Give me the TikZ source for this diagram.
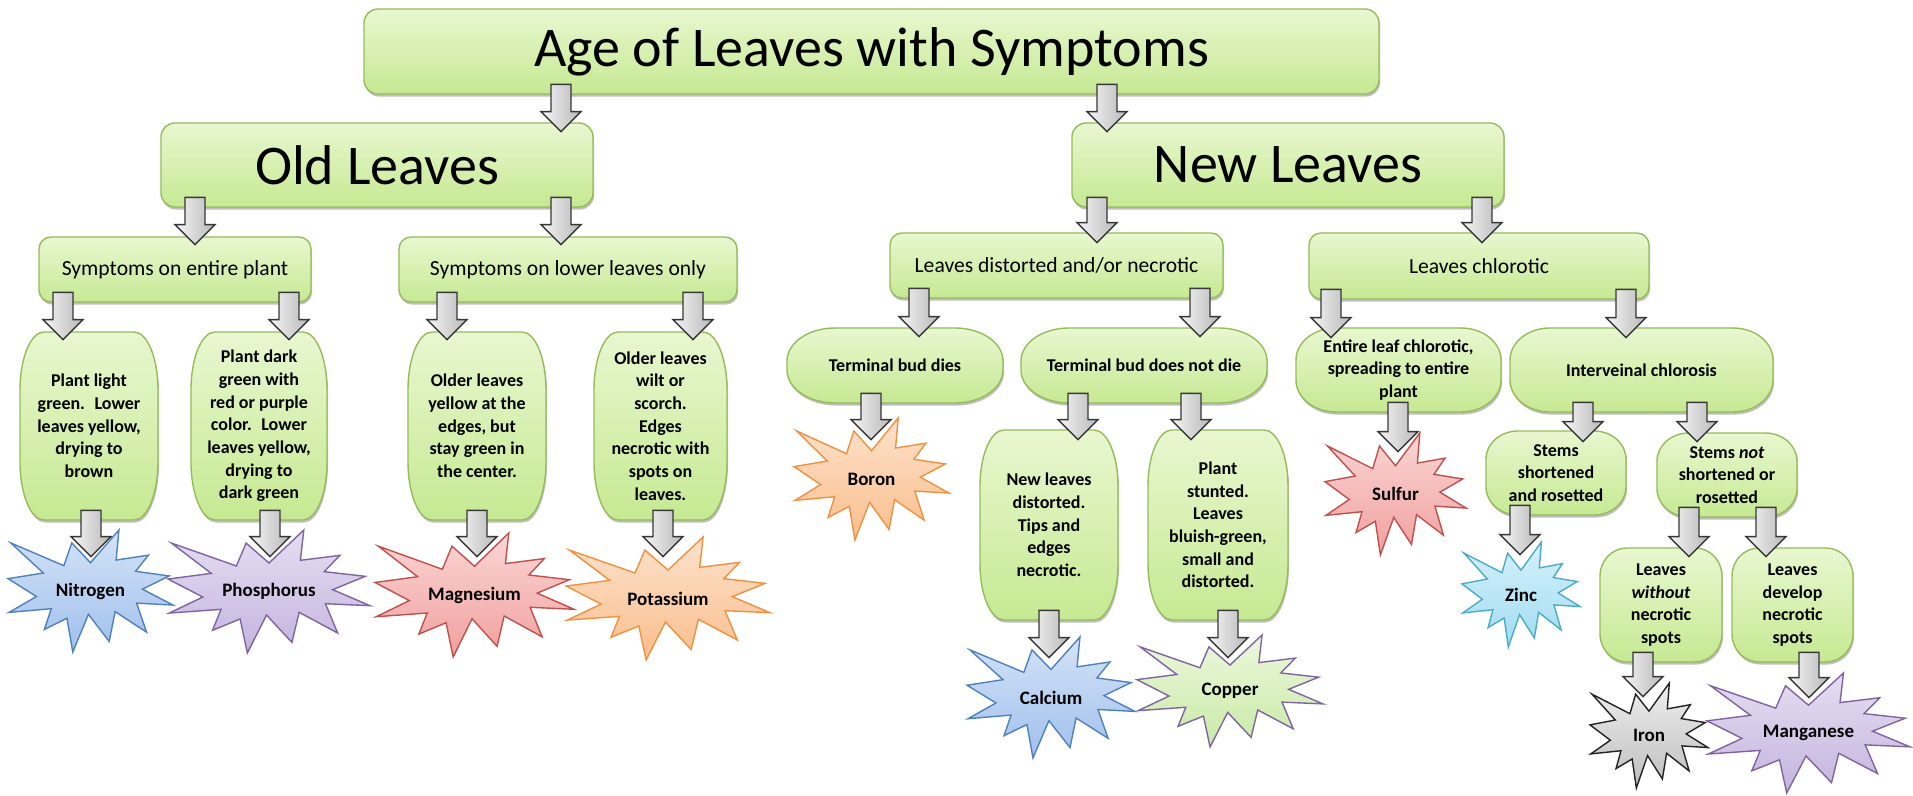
\documentclass[tikz,border=0pt]{standalone}
\usepackage{fontspec}
\setmainfont{Carlito}
\usetikzlibrary{calc,shadows}

\definecolor{boxtop}{RGB}{232,247,208}
\definecolor{boxbot}{RGB}{198,233,146}
\definecolor{boxline}{RGB}{150,188,90}
\definecolor{arrline}{RGB}{55,55,55}

\definecolor{bluetop}{RGB}{212,227,247}
\definecolor{bluebot}{RGB}{160,192,236}
\definecolor{blueline}{RGB}{79,129,189}
\definecolor{purptop}{RGB}{230,222,242}
\definecolor{purpbot}{RGB}{196,180,222}
\definecolor{purpline}{RGB}{128,100,162}
\definecolor{redtop}{RGB}{250,214,213}
\definecolor{redbot}{RGB}{240,160,158}
\definecolor{redline}{RGB}{192,80,77}
\definecolor{oratop}{RGB}{253,226,204}
\definecolor{orabot}{RGB}{250,190,140}
\definecolor{oraline}{RGB}{240,145,65}
\definecolor{grntop}{RGB}{236,248,222}
\definecolor{grnbot}{RGB}{200,234,166}
\definecolor{cyantop}{RGB}{214,241,250}
\definecolor{cyanbot}{RGB}{160,220,240}
\definecolor{cyanline}{RGB}{75,172,198}
\definecolor{graytop}{RGB}{238,238,238}
\definecolor{graybot}{RGB}{190,190,190}
\definecolor{grayline}{RGB}{35,35,35}

\tikzset{
  boxshape/.style={draw=boxline, line width=0.7pt, top color=boxtop, bottom color=boxbot,
    drop shadow={shadow xshift=0.5pt, shadow yshift=-1.3pt, opacity=0.25, fill=black}},
  boxlabel/.style={inner sep=0pt, align=center, text=black},
  txtbig/.style={font=\fontsize{28}{33}\selectfont},
  txtmid/.style={font=\fontsize{10.8}{13}\selectfont},
  txtsmall/.style={font=\fontsize{9}{11.35}\selectfont\bfseries},
  burstbase/.style={line width=0.7pt, line join=miter},
  burstlabel/.style={inner sep=0pt, font=\fontsize{9.5}{11}\selectfont\bfseries},
  bblue/.style={draw=blueline, top color=bluetop, bottom color=bluebot},
  bpurp/.style={draw=purpline, top color=purptop, bottom color=purpbot},
  bred/.style={draw=redline, top color=redtop, bottom color=redbot},
  bora/.style={draw=oraline, top color=oratop, bottom color=orabot},
  bgrn/.style={draw=purpline, top color=grntop, bottom color=grnbot},
  bcyan/.style={draw=cyanline, top color=cyantop, bottom color=cyanbot},
  bgray/.style={draw=grayline, top color=graytop, bottom color=graybot},
  barrowstyle/.style={draw=arrline, line width=0.7pt, line join=miter,
    left color=gray!8, right color=gray!55},
}

% rounded box with elliptical corners: [style]{name}{cx}{cy}{w}{h}{rx}{ry}{text}
\newcommand\gbox[9][txtsmall]{%
  \pgfmathsetmacro\bxL{#3-#5/2}\pgfmathsetmacro\bxR{#3+#5/2}%
  \pgfmathsetmacro\bxT{#4-#6/2}\pgfmathsetmacro\bxB{#4+#6/2}%
  \pgfmathsetmacro\bxA{#7}\pgfmathsetmacro\bxC{#8}%
  \pgfmathsetmacro\bxa{#7*0.4477}\pgfmathsetmacro\bxc{#8*0.4477}%
  \path[boxshape] (\bxL,{\bxT+\bxC}) .. controls (\bxL,{\bxT+\bxc}) and ({\bxL+\bxa},\bxT) .. ({\bxL+\bxA},\bxT)
    -- ({\bxR-\bxA},\bxT) .. controls ({\bxR-\bxa},\bxT) and (\bxR,{\bxT+\bxc}) .. (\bxR,{\bxT+\bxC})
    -- (\bxR,{\bxB-\bxC}) .. controls (\bxR,{\bxB-\bxc}) and ({\bxR-\bxa},\bxB) .. ({\bxR-\bxA},\bxB)
    -- ({\bxL+\bxA},\bxB) .. controls ({\bxL+\bxa},\bxB) and (\bxL,{\bxB-\bxc}) .. (\bxL,{\bxB-\bxC}) -- cycle;
  \node[boxlabel,#1,minimum width={#5*0.5pt},minimum height={#6*0.5pt}] (#2) at (#3,#4) {#9};
}

% explosion star: {name}{L}{T}{R}{B}{style}{text}
\newcommand\burst[7]{%
  \begin{scope}[shift={(#2,#3)}, x={({(#4-#2)*0.5pt},0pt)}, y={(0pt,{(#3-#5)*0.5pt})}]
    \path[burstbase,#6] (0.5,0.2685) -- (0.6723,0) -- (0.6553,0.2465) -- (0.8509,0.2063)
      -- (0.7732,0.3387) -- (0.9767,0.3767) -- (0.8151,0.4850) -- (1,0.6153)
      -- (0.7795,0.5992) -- (0.8400,0.8377) -- (0.6491,0.6693) -- (0.6133,0.9138)
      -- (0.4876,0.6914) -- (0.3928,1) -- (0.3572,0.7235) -- (0.2205,0.8156)
      -- (0.2624,0.6452) -- (0.00625,0.6753) -- (0.1723,0.5451) -- (0,0.3988)
      -- (0.2142,0.3526) -- (0.0171,0.1063) -- (0.3385,0.2926) -- (0.3867,0.1063) -- cycle;
  \end{scope}
  \node[burstlabel, minimum width={(#4-#2)*0.5pt}, minimum height={(#5-#3)*0.5pt}] (#1) at ({(#2+#4)/2},{(#3+#5)/2}) {#7};
}

% block arrow: {src}{dst}{x px}{tip depth below dst top, px}
\newcommand\barrow[4]{%
  \path[barrowstyle] let \p1=(#1.south), \p2=(#2.north) in
    ({#3*0.5pt-5pt},{\y1+5pt}) -- ({#3*0.5pt+5pt},{\y1+5pt})
    -- ({#3*0.5pt+5pt},{\y2-#4*0.5pt+10pt}) -- ({#3*0.5pt+10pt},{\y2-#4*0.5pt+10pt})
    -- ({#3*0.5pt},{\y2-#4*0.5pt}) -- ({#3*0.5pt-10pt},{\y2-#4*0.5pt+10pt})
    -- ({#3*0.5pt-5pt},{\y2-#4*0.5pt+10pt}) -- cycle;
}

\begin{document}
\begin{tikzpicture}[x=0.5pt,y=-0.5pt]
\fill[white] (0,0) rectangle (1913,796);
\useasboundingbox (0,0) rectangle (1913,796);

% level 1-3
\gbox[txtbig]{title}{871.5}{51.5}{1015}{85}{14}{14}{Age of Leaves with Symptoms}
\gbox[txtbig]{old}{377}{165}{432}{84}{14}{14}{Old Leaves}
\gbox[txtbig]{new}{1288}{165}{432}{84}{14}{14}{New Leaves}
\gbox[txtmid]{sent}{175}{269.5}{272}{65}{12}{12}{Symptoms on entire plant}
\gbox[txtmid]{slow}{568}{269.5}{338}{65}{12}{12}{Symptoms on lower leaves only}
\gbox[txtmid]{ldist}{1056.5}{265.5}{333}{65}{12}{12}{Leaves distorted and/or necrotic}
\gbox[txtmid]{lchl}{1479}{266}{340}{66}{12}{12}{Leaves chlorotic}

% old-leaf details
\gbox{bN}{89}{426}{138}{188}{24}{58}{Plant light\\green.~ Lower\\leaves yellow,\\drying to\\brown}
\gbox{bP}{259}{426}{136}{188}{24}{58}{Plant dark\\green with\\red or purple\\color.~ Lower\\leaves yellow,\\drying to\\dark green}
\gbox{bMg}{477}{426}{138}{188}{24}{58}{Older leaves\\yellow at the\\edges, but\\stay green in\\the center.}
\gbox{bK}{660.5}{426}{133}{188}{24}{58}{Older leaves\\wilt or\\scorch.\\Edges\\necrotic with\\spots on\\leaves.}

% new-leaf details
\gbox{tdies}{895}{365.5}{216}{75}{48}{33}{Terminal bud dies}
\gbox{tnot}{1144}{365.5}{246}{75}{48}{33}{Terminal bud does not die}
\gbox{bNL}{1049}{525}{138}{190}{24}{56}{New leaves\\distorted.\\Tips and\\edges\\necrotic.}
\gbox{bPS}{1218}{525}{140}{190}{24}{56}{Plant\\stunted.\\Leaves\\bluish-green,\\small and\\distorted.}
\gbox{entire}{1398.5}{370}{205}{84}{40}{32}{Entire leaf chlorotic,\\spreading to entire\\plant}
\gbox{interv}{1641.5}{370}{263}{84}{40}{32}{Interveinal chlorosis}
\gbox{sshort}{1556}{473}{140}{84}{32}{28}{Stems\\shortened\\and rosetted}
\gbox{snot}{1727}{475}{140}{84}{32}{28}{Stems \textit{not}\\shortened or\\rosetted}
\gbox{lwo}{1661}{605}{122}{114}{27}{28}{Leaves\\\textit{without}\\necrotic\\spots}
\gbox{ldev}{1792.5}{605}{121}{114}{27}{28}{Leaves\\develop\\necrotic\\spots}

% nutrients
\burst{sN}{8}{530}{173}{652}{bblue}{Nitrogen}
\burst{sP}{168}{530}{370}{653}{bpurp}{Phosphorus}
\burst{sMg}{375}{533}{574}{657}{bred}{Magnesium}
\burst{sK}{566}{537}{770}{660}{bora}{Potassium}
\burst{sB}{794}{418}{949}{540}{bora}{Boron}
\burst{sCa}{967}{637}{1135}{758}{bblue}{Calcium}
\burst{sCu}{1137}{635}{1323}{747}{bgrn}{Copper}
\burst{sS}{1325}{433}{1466}{555}{bred}{Sulfur}
\burst{sZn}{1462}{542}{1580}{647}{bcyan}{Zinc}
\burst{sFe}{1590}{683}{1708}{788}{bgray}{Iron}
\burst{sMn}{1707}{673}{1910}{793}{bpurp}{Manganese}

% arrows
\barrow{title}{old}{561}{9}
\barrow{title}{new}{1107}{9}
\barrow{old}{sent}{195}{8}
\barrow{old}{slow}{561}{8}
\barrow{new}{ldist}{1097}{10}
\barrow{new}{lchl}{1482}{10}
\barrow{sent}{bN}{63}{8}
\barrow{sent}{bP}{289}{8}
\barrow{slow}{bMg}{447}{8}
\barrow{slow}{bK}{693}{8}
\barrow{bN}{sN}{91}{27}
\barrow{bP}{sP}{270}{27}
\barrow{bMg}{sMg}{477}{24}
\barrow{bK}{sK}{663}{20}
\barrow{ldist}{tdies}{919}{9}
\barrow{ldist}{tnot}{1200}{9}
\barrow{lchl}{entire}{1331}{10}
\barrow{lchl}{interv}{1626}{10}
\barrow{tdies}{sB}{871}{22}
\barrow{tnot}{bNL}{1078}{10}
\barrow{tnot}{bPS}{1191}{10}
\barrow{entire}{sS}{1398}{19}
\barrow{interv}{sshort}{1583}{11}
\barrow{interv}{snot}{1697}{9}
\barrow{bNL}{sCa}{1049}{21}
\barrow{bPS}{sCu}{1228}{23}
\barrow{sshort}{sZn}{1520}{13}
\barrow{snot}{lwo}{1689}{9}
\barrow{snot}{ldev}{1766}{9}
\barrow{lwo}{sFe}{1643}{14}
\barrow{ldev}{sMn}{1809}{25}
\end{tikzpicture}
\end{document}
